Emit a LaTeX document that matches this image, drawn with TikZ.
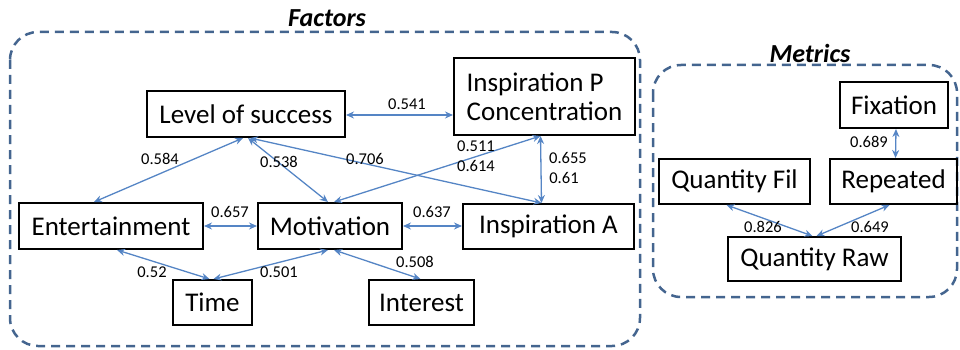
\documentclass[tikz,border=0pt]{standalone}
\usepackage{fontspec}
\setmainfont{Carlito}
\usetikzlibrary{arrows.meta}
\definecolor{edgeblue}{HTML}{5585C5}
\definecolor{groupblue}{HTML}{44658F}
\tikzset{
  factorbox/.style={draw=black, line width=2pt, inner sep=0pt, font=\fontsize{27}{29}\selectfont, anchor=north west},
  link/.style={draw=edgeblue, line width=1.3pt, {Stealth[length=8pt,width=7pt]}-{Stealth[length=8pt,width=7pt]}},
  wlabel/.style={font=\fontsize{16.5}{18}\selectfont, inner sep=0pt},
  groupframe/.style={draw=groupblue, line width=2.5pt, dash pattern=on 9pt off 6pt, rounded corners=28pt},
  grouptitle/.style={font=\fontsize{26}{28}\selectfont\bfseries\itshape, inner sep=0pt}
}
\begin{document}
\begin{tikzpicture}[x=1pt,y=-1pt]
\useasboundingbox (0,0) rectangle (960,350);
% group frames
\draw[groupframe] (10,32) rectangle (640,346);
\node[grouptitle] (ftitle) at (327,18) {Factors};
\draw[groupframe] (653,65) rectangle (957,297);
\node[grouptitle] (mtitle) at (810,53) {Metrics};
% nodes
\node[factorbox, minimum width=198pt, minimum height=46pt] (los) at (146,90) {Level of success};
\node[factorbox, minimum width=181pt, minimum height=77pt, align=left] (insp) at (453,57) {Inspiration P\\Concentration};
\node[factorbox, minimum width=184pt, minimum height=46pt] (ent) at (18,202) {Entertainment};
\node[factorbox, minimum width=144pt, minimum height=46pt] (mot) at (257,202) {Motivation};
\node[factorbox, minimum width=171pt, minimum height=45pt] (insa) at (462,203) {Inspiration A};
\node[factorbox, minimum width=79pt, minimum height=45pt] (time) at (172,279) {Time};
\node[factorbox, minimum width=105pt, minimum height=45pt] (int) at (368,279) {Interest};
\node[factorbox, minimum width=108pt, minimum height=46pt] (fix) at (839,81) {Fixation};
\node[factorbox, minimum width=151pt, minimum height=45pt] (qfil) at (658,158) {Quantity Fil};
\node[factorbox, minimum width=127pt, minimum height=45pt] (rep) at (829,158) {Repeated};
\node[factorbox, minimum width=173pt, minimum height=44pt] (qraw) at (727,236) {Quantity Raw};
% connectors
\draw[link] ([yshift=-1pt]los.east) -- ([yshift=-1pt]insp.west |- los.east);
\draw[link] ([xshift=-3pt]los.south) -- ([xshift=-17pt]ent.south |- ent.north);
\draw[link] ([xshift=2pt]los.south) -- ([xshift=-2pt]mot.north);
\draw[link] ([xshift=4pt]los.south) -- ([xshift=-7pt]insa.north);
\draw[link] ([xshift=-4pt]insp.south) -- ([xshift=4pt]mot.north);
\draw[link] ([xshift=-4pt]insp.south) -- ([xshift=-7pt]insa.north);
\draw[link] (ent.east) -- (mot.west);
\draw[link] (mot.east) -- (insa.west |- mot.east);
\draw[link] ([xshift=6pt]ent.south |- ent.south) -- ([xshift=-3pt]time.north);
\draw[link] ([xshift=-2pt]mot.south) -- ([xshift=1pt]time.north);
\draw[link] ([xshift=4pt]mot.south) -- ([xshift=-1pt]int.north);
\draw[link] ([xshift=2pt]fix.south) -- ([xshift=2pt]rep.north);
\draw[link] ([xshift=-8pt]qfil.south) -- ([xshift=-2pt]qraw.north);
\draw[link] ([xshift=-4pt]rep.south) -- ([xshift=2pt]qraw.north);
% labels
\node[wlabel] (l541) at (407,104) {0.541};
\node[wlabel] (l584) at (160,159) {0.584};
\node[wlabel] (l538) at (279,162) {0.538};
\node[wlabel] (l706) at (365,159) {0.706};
\node[wlabel] (l511) at (476,146) {0.511};
\node[wlabel] (l614) at (476,166) {0.614};
\node[wlabel] (l655) at (568,158) {0.655};
\node[wlabel] (l61) at (564,178) {0.61};
\node[wlabel] (l657) at (230,212) {0.657};
\node[wlabel] (l637) at (432,212) {0.637};
\node[wlabel] (l52) at (152,272) {0.52};
\node[wlabel] (l501) at (279,272) {0.501};
\node[wlabel] (l508) at (415,262) {0.508};
\node[wlabel] (l689) at (869,142) {0.689};
\node[wlabel] (l826) at (763,227) {0.826};
\node[wlabel] (l649) at (870,227) {0.649};
\end{tikzpicture}
\end{document}
